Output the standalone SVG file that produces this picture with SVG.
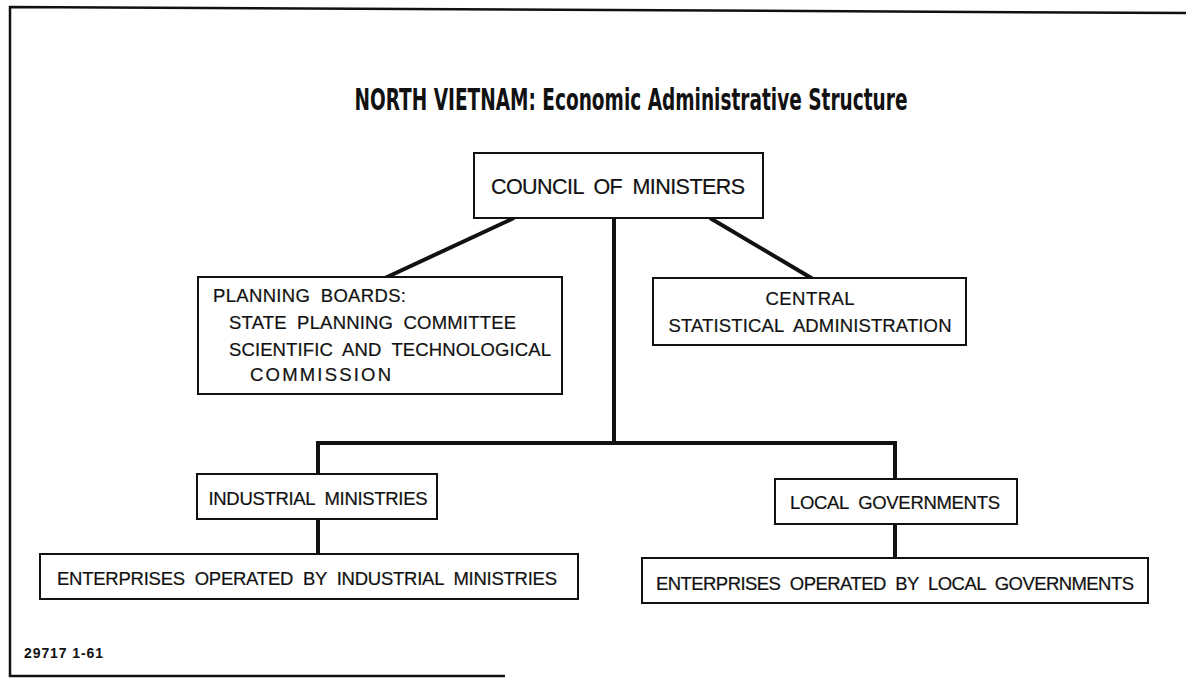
<svg xmlns="http://www.w3.org/2000/svg" width="1186" height="679" viewBox="0 0 1186 679">
<style>
.box{fill:#fff;stroke:#111;stroke-width:2}
.t{font-family:"Liberation Sans",Arial,sans-serif;font-size:18.5px;fill:#111;stroke:#111;stroke-width:0.2;word-spacing:5px}
.c{stroke:#111;stroke-width:4;fill:none}
.frame{stroke:#111;stroke-width:2.5;fill:none}
</style>
<rect width="1186" height="679" fill="#fff"/>
<path class="frame" d="M1186 13 L10 7 L10 676 L505 676"/>
<text x="631" y="110" text-anchor="middle" textLength="553" lengthAdjust="spacingAndGlyphs" style="font-family:'DejaVu Sans Condensed','DejaVu Sans',sans-serif;font-weight:bold;font-size:30px;fill:#111">NORTH VIETNAM: Economic Administrative Structure</text>
<g id="connectors">
<line class="c" x1="514" y1="218" x2="385" y2="278"/>
<line class="c" x1="710" y1="218" x2="813" y2="279"/>
<line class="c" x1="614" y1="218" x2="614" y2="443"/>
<polyline class="c" points="318,475 318,443 895,443 895,479"/>
<line class="c" x1="318" y1="519" x2="318" y2="554"/>
<line class="c" x1="895" y1="524" x2="895" y2="558"/>
</g>
<g id="council">
<rect class="box" x="474" y="153" width="289" height="65"/>
<text class="t" x="618" y="194" text-anchor="middle" textLength="254" style="font-size:21.5px">COUNCIL OF MINISTERS</text>
</g>
<g id="planning">
<rect class="box" x="198" y="277" width="364" height="117"/>
<text class="t" x="213" y="302" textLength="193">PLANNING BOARDS:</text>
<text class="t" x="229" y="329" textLength="287">STATE PLANNING COMMITTEE</text>
<text class="t" x="229" y="356" textLength="322">SCIENTIFIC AND TECHNOLOGICAL</text>
<text class="t" x="250" y="381" textLength="141">COMMISSION</text>
</g>
<g id="central">
<rect class="box" x="653" y="278" width="313" height="67"/>
<text class="t" x="810" y="305" text-anchor="middle" textLength="89">CENTRAL</text>
<text class="t" x="810" y="332" text-anchor="middle" textLength="283">STATISTICAL ADMINISTRATION</text>
</g>
<g id="industrial">
<rect class="box" x="197" y="474" width="240" height="45"/>
<text class="t" x="318" y="505" text-anchor="middle" textLength="219">INDUSTRIAL MINISTRIES</text>
</g>
<g id="enterprises-industrial">
<rect class="box" x="40" y="554" width="538" height="45"/>
<text class="t" x="307" y="585" text-anchor="middle" textLength="500">ENTERPRISES OPERATED BY INDUSTRIAL MINISTRIES</text>
</g>
<g id="local">
<rect class="box" x="775" y="479" width="242" height="45"/>
<text class="t" x="895" y="509" text-anchor="middle" textLength="210">LOCAL GOVERNMENTS</text>
</g>
<g id="enterprises-local">
<rect class="box" x="642" y="558" width="506" height="45"/>
<text class="t" x="895" y="590" text-anchor="middle" textLength="478">ENTERPRISES OPERATED BY LOCAL GOVERNMENTS</text>
</g>
<text x="24" y="658" textLength="79" style="font-family:'Liberation Sans',Arial,sans-serif;font-size:14px;font-weight:bold;fill:#111">29717 1-61</text>
</svg>
